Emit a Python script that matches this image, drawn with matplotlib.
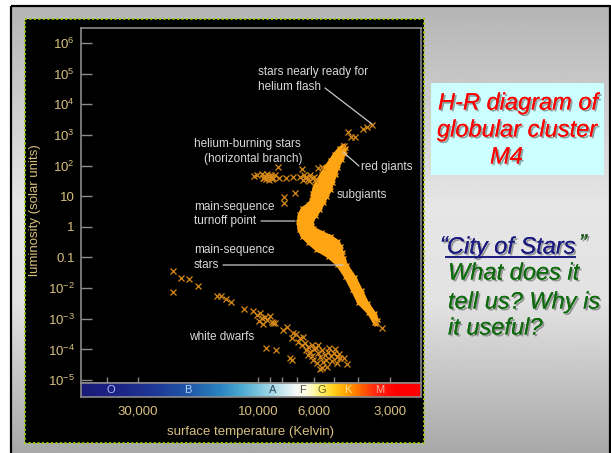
import numpy as np
import matplotlib
matplotlib.use("Agg")
import matplotlib.pyplot as plt
from matplotlib.patches import Rectangle
from matplotlib.colors import LinearSegmentedColormap, Normalize
import matplotlib.patheffects as pe

plt.rcParams['font.family'] = ['Liberation Sans', 'DejaVu Sans']
plt.rcParams['mathtext.fontset'] = 'custom'
plt.rcParams['mathtext.rm'] = 'Liberation Sans'
plt.rcParams['mathtext.it'] = 'Liberation Sans:italic'
plt.rcParams['mathtext.bf'] = 'Liberation Sans:bold'

# --- datos (log10 T en K, log10 L en unidades solares) ---
# enanas blancas
wd_logT = [4.337, 4.308, 4.273, 4.240, 4.339, 4.165, 4.149, 4.127, 4.109, 4.056,
           4.021, 4.005, 3.992, 3.985, 3.972, 3.963, 3.952, 3.946, 3.932, 3.995,
           3.979, 3.939, 3.886, 3.860, 3.866, 3.833, 3.820, 3.813, 3.826, 3.800,
           3.787, 3.760, 3.969, 3.928, 3.872, 3.866, 3.780, 3.767, 3.747, 3.724,
           3.687, 3.647, 3.674, 3.752, 3.658, 3.809, 3.793, 3.777, 3.761, 3.746,
           3.734, 3.722, 3.710, 3.698, 3.686, 3.785, 3.753, 3.730, 3.706, 3.769,
           3.718, 3.801, 3.742, 3.694, 3.678, 3.841, 3.849, 3.901]
wd_logL = [-1.442, -1.670, -1.687, -1.932, -2.137, -2.258, -2.248, -2.356, -2.437, -2.682,
           -2.748, -2.878, -2.813, -2.976, -2.934, -3.041, -2.901, -3.097, -3.149, -3.074,
           -3.182, -3.129, -3.280, -3.476, -3.639, -3.639, -3.586, -3.802, -3.857, -3.913,
           -3.857, -3.857, -3.945, -4.020, -4.291, -4.347, -4.347, -4.435, -4.618, -4.566,
           -4.455, -4.487, -4.291, -4.641, -4.291, -4.020, -4.086, -3.988, -4.118, -4.020,
           -4.184, -4.086, -4.216, -4.118, -4.249, -4.216, -4.249, -4.347, -4.380, -3.955,
           -3.955, -4.184, -4.412, -3.988, -4.151, -3.759, -3.498, -3.368]
# rama horizontal
hb_logT = [4.018, 4.004, 3.984, 3.972, 3.964, 3.956, 3.948, 3.940, 3.968, 3.932,
           3.922, 3.918, 3.889, 3.863, 3.827, 3.833, 3.821, 3.809, 3.797, 3.785,
           3.773, 3.817, 3.793, 3.853, 3.898, 3.895, 3.960, 3.980, 3.950, 3.976,
           3.944, 3.815, 3.803, 3.779, 3.760, 3.747]
hb_logL = [1.659, 1.692, 1.740, 1.659, 1.724, 1.528, 1.643, 1.594, 1.561, 1.692,
           1.962, 1.594, 1.610, 1.643, 1.904, 1.626, 1.528, 1.626, 1.496, 1.594,
           1.528, 1.692, 1.692, 1.114, 0.983, 0.787, 1.659, 1.594, 1.700, 1.610,
           1.560, 1.580, 1.560, 1.640, 1.910, 1.962]
# estrellas cerca del flash de helio
tip_logT = [3.641, 3.631, 3.614, 3.581, 3.568, 3.548, 3.657, 3.507, 3.531]
tip_logL = [3.105, 2.942, 2.922, 3.183, 3.248, 3.324, 2.638, -3.312, -3.107]
# contorno de la banda densa (secuencia principal, subgigantes, gigantes rojas)
band_logT = [3.539, 3.563, 3.602, 3.627, 3.654, 3.686, 3.722, 3.769, 3.801, 3.825,
             3.839, 3.843, 3.837, 3.825, 3.801, 3.789, 3.785, 3.777, 3.765, 3.750,
             3.734, 3.714, 3.698, 3.678, 3.662,
             3.650, 3.654, 3.666, 3.682, 3.690, 3.702, 3.710, 3.726, 3.738, 3.753,
             3.769, 3.785, 3.777, 3.746, 3.710, 3.682, 3.670, 3.664, 3.658, 3.646,
             3.614, 3.588, 3.563, 3.535, 3.523, 3.531]
band_logL = [-3.139, -2.813, -2.486, -2.062, -1.638, -1.246, -0.985, -0.756, -0.528, -0.332,
             -0.104, 0.157, 0.419, 0.614, 0.745, 0.876, 1.104, 1.332, 1.528, 1.724,
             1.953, 2.181, 2.377, 2.573, 2.671,
             2.573, 2.377, 2.181, 1.920, 1.692, 1.430, 1.202, 0.973, 0.778, 0.549,
             0.353, 0.157, -0.038, -0.169, -0.300, -0.463, -0.626, -0.822, -1.018, -1.246,
             -1.638, -2.062, -2.486, -2.813, -3.041, -3.172]

lum_ticks = [1e6, 1e5, 1e4, 1e3, 1e2, 10, 1, 0.1, 1e-2, 1e-3, 1e-4, 1e-5]
lum_labels = ['$10^{6}$', '$10^{5}$', '$10^{4}$', '$10^{3}$', '$10^{2}$', '10', '1',
              '0.1', '$10^{-2}$', '$10^{-3}$', '$10^{-4}$', '$10^{-5}$']
temp_ticks = [40000, 30000, 10000, 9000, 8000, 7000, 6000, 5000, 4000, 3000]
temp_label_ticks = [30000, 10000, 6000, 3000]
temp_labels = ['30,000', '10,000', '6,000', '3,000']
spec_classes = ['O', 'B', 'A', 'F', 'G', 'K', 'M']
spec_temps = [38400, 19000, 8750, 6640, 5580, 4380, 3270]
spec_colors = ['#b4b8f0', '#b0d0f8', '#2c4a58', '#505050', '#606020', '#ffe090', '#ffb0a0']

T_MIN, T_MAX = 2250, 50600
L_MIN, L_MAX = 10**-5.08, 10**6.49

W, H = 611, 453
fig = plt.figure(figsize=(W / 100, H / 100), dpi=100)
fig.patch.set_facecolor('white')

# fondo de la diapositiva (coordenadas en pixeles)
bg = fig.add_axes([0, 0, 1, 1])
bg.set_xlim(0, W)
bg.set_ylim(H, 0)
bg.axis('off')
gy = np.linspace(0, 1, 200)
gv = np.interp(gy, [0, 0.44, 0.66, 1], [0.71, 0.90, 0.89, 0.66])
bg.imshow(np.repeat(gv[:, None], 2, axis=1), cmap='gray', vmin=0, vmax=1,
          extent=(11, 610, 453, 6), aspect='auto', zorder=0)
bg.add_patch(Rectangle((10.5, 5.5), 599, 460, fill=False, edgecolor='black', lw=1.6, zorder=1))
bg.add_patch(Rectangle((25, 19), 399, 424, facecolor='black', edgecolor='#99cc00',
                       lw=1.4, linestyle=(0, (1, 1.3)), zorder=1))
bg.add_patch(Rectangle((431, 83), 173, 92, facecolor='#ccffff', edgecolor='none', zorder=1))

shadow = [pe.withSimplePatchShadow(offset=(1.3, -1.3), shadow_rgbFace='#555555', alpha=0.55),
          pe.Normal()]
title_kw = dict(fontsize=17, style='italic', ha='left', va='center', path_effects=shadow, zorder=3)
bg.text(438, 103, 'H-R diagram of', color='#ff0000', **title_kw)
bg.text(437, 130, 'globular cluster', color='#ff0000', **title_kw)
bg.text(490, 157, 'M4', color='#ff0000', **title_kw)
bg.text(440, 246, '\u201c', color='#1a1a80', **title_kw)
bg.text(447, 247, 'City of Stars', color='#1a1a80', **title_kw)
bg.plot([446, 575], [257, 257], color='#1a1a80', lw=1.4, zorder=3)
bg.text(579, 244, '\u201d', color='#1a5a1a', **title_kw)
bg.text(448, 273, 'What does it', color='#0d6a0d', **title_kw)
bg.text(448, 302, 'tell us? Why is', color='#0d6a0d', **title_kw)
bg.text(448, 328, 'it useful?', color='#0d6a0d', **title_kw)

# diagrama H-R
ax = fig.add_axes([81 / W, 1 - 382.5 / H, 340 / W, 354.5 / H])
ax.set_facecolor('none')
ax.set_xscale('log')
ax.set_yscale('log')
ax.set_xlim(T_MAX, T_MIN)
ax.set_ylim(L_MIN, L_MAX)

orange = '#ffa514'
xcol = '#d88a18'
ax.fill(10**np.array(band_logT), 10**np.array(band_logL), color=orange, lw=1.5, zorder=2)
ax.plot(10**np.array(band_logT), 10**np.array(band_logL), 'x', color=orange, ms=3, mew=0.9, zorder=2)
ax.plot(10**np.array(wd_logT), 10**np.array(wd_logL), 'x', color=xcol, ms=3.8, mew=0.9, zorder=3)
ax.plot(10**np.array(hb_logT), 10**np.array(hb_logL), 'x', color=xcol, ms=3.8, mew=0.9, zorder=3)
ax.plot(10**np.array(tip_logT), 10**np.array(tip_logL), 'x', color=xcol, ms=3.8, mew=0.9, zorder=3)

frame = '#8a8a8a'
for s in ax.spines.values():
    s.set_color(frame)
    s.set_linewidth(1.2)
ax.set_yticks(lum_ticks, lum_labels)
ax.minorticks_off()
ax.set_xticks(temp_ticks, [''] * len(temp_ticks))
ax.xaxis.set_minor_locator(matplotlib.ticker.NullLocator())
ax.yaxis.set_minor_locator(matplotlib.ticker.NullLocator())
tan = '#d7bf7f'
ax.tick_params(axis='y', direction='in', length=8, width=1, color=frame,
               labelcolor=tan, labelsize=9.5, pad=4.5)
ax.tick_params(axis='x', direction='in', length=4.3, width=1, color=frame)
ax.set_ylabel('luminosity (solar units)', color=tan, fontsize=9.5)
ax.yaxis.set_label_coords(-0.118, 0.487)

# etiquetas y lineas guia
lab_kw = dict(color='#d9d9d9', fontsize=8.5, ha='left', va='center', transform=bg.transData, zorder=4)
for txt, px, py in [('stars nearly ready for', 258, 72), ('helium flash', 258, 87),
                    ('helium-burning stars', 194, 144), ('(horizontal branch)', 204, 159),
                    ('red giants', 361, 167), ('subgiants', 337, 195),
                    ('main-sequence', 194, 207), ('turnoff point', 194, 221),
                    ('main-sequence', 194, 250), ('stars', 194, 265),
                    ('white dwarfs', 189, 337)]:
    ax.text(px, py, txt, **lab_kw)
line_kw = dict(arrowstyle='-', color='#c8c8c8', lw=0.9, shrinkA=0, shrinkB=0)
for (tx, ty), (T, L) in [((325, 88), (3525, 2270)), ((359, 166), (4590, 277)),
                         ((261, 221), (7130, 1.55)), ((223, 265), (4590, 0.0568))]:
    ax.annotate('', xy=(T, L), xycoords='data', xytext=(tx, ty), textcoords=bg.transData,
                arrowprops=line_kw, zorder=4)

# barra de clases espectrales
nodes = [(3.352, '#ff0000'), (3.45, '#ff0000'), (3.535, '#ff2a10'), (3.60, '#ff7000'),
         (3.645, '#ffa000'), (3.70, '#ffd020'), (3.75, '#fff070'), (3.80, '#fffbd8'),
         (3.85, '#f4fafa'), (3.91, '#c0e4ec'), (3.98, '#88cce0'), (4.07, '#48a8d0'),
         (4.15, '#2a84c0'), (4.27, '#2058a8'), (4.40, '#1e3a98'), (4.55, '#1c2486'),
         (4.704, '#1a1a78')]
lo, hi = np.log10(T_MIN), np.log10(T_MAX)
pos = np.clip([(v - lo) / (hi - lo) for v, c in nodes], 0, 1)
pos[0], pos[-1] = 0.0, 1.0
spec_cmap = LinearSegmentedColormap.from_list('spec', list(zip(pos, [c for v, c in nodes])))
cax = fig.add_axes([81 / W, 1 - 397 / H, 340 / W, 14 / H])
cax.set_xscale('log')
edges = np.logspace(lo, hi, 400)
cent = np.log10(np.sqrt(edges[:-1] * edges[1:]))[None, :]
cax.pcolormesh(edges, [0, 1], cent, cmap=spec_cmap, norm=Normalize(lo, hi), shading='flat')
cax.set_xlim(T_MAX, T_MIN)
cax.set_ylim(0, 1)
for s in cax.spines.values():
    s.set_color(frame)
    s.set_linewidth(1.2)
cax.set_yticks([])
cax.set_xticks(temp_label_ticks, temp_labels)
cax.xaxis.set_minor_locator(matplotlib.ticker.NullLocator())
cax.tick_params(axis='x', length=0, labelcolor=tan, labelsize=9.5, pad=6)
for lab, T, c in zip(spec_classes, spec_temps, spec_colors):
    cax.text(T, 0.5, lab, color=c, fontsize=8, ha='center', va='center')
cax.set_xlabel('surface temperature (Kelvin)', color=tan, fontsize=9.5)
cax.xaxis.set_label_coords(0.5, -2.1)

fig.savefig('out.png', dpi=100)
